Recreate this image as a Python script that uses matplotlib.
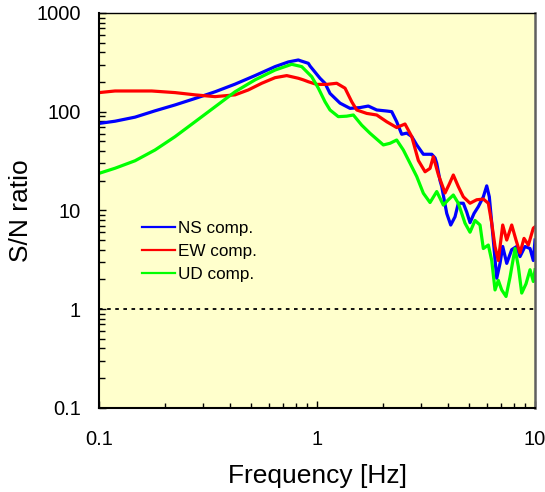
import numpy as np
import matplotlib.pyplot as plt
from matplotlib.ticker import LogLocator, NullFormatter, FixedLocator, FixedFormatter

plt.rcParams["font.family"] = ["Liberation Sans", "DejaVu Sans"]

# NS component (blue)
ns_freq = [0.1, 0.1184, 0.1463, 0.1807, 0.2232, 0.2757, 0.3405, 0.4206, 0.5195,
           0.6418, 0.7384, 0.8209, 0.8356, 0.9122, 0.9288, 1.032, 1.088, 1.147,
           1.275, 1.417, 1.575, 1.719, 1.879, 2.088, 2.201, 2.320, 2.446, 2.579,
           2.719, 2.867, 3.074, 3.299, 3.359, 3.478, 3.541, 3.666, 3.733, 3.936,
           4.105, 4.295, 4.448, 4.689, 4.861, 5.033, 5.251, 5.495, 5.792, 6.004,
           6.171, 6.397, 6.672, 6.909, 7.109, 7.417, 7.818, 8.242, 8.534, 8.997,
           9.487, 9.822, 10.0]
ns_sn = [76, 80, 88, 102, 117, 136, 159, 190, 232,
         286, 319, 334, 329, 309, 290, 218, 194, 153,
         122, 108, 110, 114, 104, 101.5, 100, 79, 59, 60.6,
         56, 46, 37, 37, 37, 34, 30, 20, 17.4, 9.3,
         7.1, 8.6, 11.8, 11.8, 9.6, 7.5, 9.3, 10.9, 13.7, 17.7,
         13.7, 5.8, 2.05, 2.9, 4.3, 2.9, 4.0, 4.3, 3.4, 4.3,
         4.1, 3.1, 5.0]

# EW component (red)
ew_freq = [0.1, 0.1184, 0.1745, 0.2232, 0.2757, 0.3405, 0.4206, 0.4840, 0.5577,
           0.6418, 0.7261, 0.8209, 0.8655, 0.9122, 0.9968, 1.108, 1.231, 1.344,
           1.443, 1.521, 1.690, 1.879, 2.088, 2.320, 2.533, 2.719, 2.916, 3.130,
           3.299, 3.416, 3.601, 3.866, 4.045, 4.219, 4.448, 4.689, 5.033, 5.403,
           5.792, 6.106, 6.330, 6.553, 6.786, 7.109, 7.417, 7.818, 8.180, 8.534,
           8.902, 9.318, 9.822, 10.0]
ew_sn = [156, 162, 162, 156, 148, 142, 148, 166, 194,
         221, 232, 218, 210, 201, 189, 189, 194, 173,
         126, 104, 96, 92.5, 79, 69, 75, 56, 32, 24.6,
         26.6, 35, 23, 15, 18.5, 22.8, 17.4, 13.7, 11.8, 12.8,
         13, 11.8, 7.4, 4.3, 3.1, 7.1, 5, 7.1, 5, 3.7,
         5.2, 4.45, 6.6, 6.8]

# UD component (green)
ud_freq = [0.1, 0.1184, 0.1463, 0.1807, 0.2232, 0.2757, 0.3405, 0.4206, 0.5195,
           0.6418, 0.7655, 0.8508, 0.9456, 1.014, 1.088, 1.147, 1.252, 1.368,
           1.468, 1.603, 1.750, 2.015, 2.162, 2.320, 2.488, 2.671, 2.867, 3.074,
           3.299, 3.541, 3.797, 4.003, 4.219, 4.448, 4.774, 5.033, 5.306, 5.594,
           5.792, 6.106, 6.330, 6.553, 6.786, 7.034, 7.362, 7.679, 8.095, 8.382,
           8.689, 9.092, 9.487, 9.822, 10.0]
ud_sn = [23.7, 26.7, 31.8, 40.9, 55.8, 79, 112, 159, 210,
         264, 302, 286, 226, 173, 126, 104, 89, 90,
         92.5, 73, 60.4, 46, 47.8, 51.6, 40.9, 30, 22, 14.9,
         12, 15.5, 11.3, 12.8, 14.3, 11.8, 7.4, 6.0, 7.9, 7.1,
         4.1, 4.45, 3.1, 1.56, 1.95, 1.56, 1.34, 2.1, 4.1, 2.7,
         1.45, 1.8, 2.5, 1.9, 2.5]

fig = plt.figure(figsize=(5.45, 4.92), dpi=100)
ax = fig.add_axes([0.1817, 0.1714, 0.8, 0.8022])
ax.set_facecolor("#FFFFCC")

ax.plot(ns_freq, ns_sn, color="#0000FF", lw=2.3, label="NS comp.")
ax.plot(ew_freq, ew_sn, color="#FF0000", lw=2.3, label="EW comp.")
ax.plot(ud_freq, ud_sn, color="#00FF00", lw=2.3, label="UD comp.")
ax.axhline(1, color="black", lw=1.3, linestyle=(0, (2, 2.5)))

ax.set_xscale("log")
ax.set_yscale("log")
ax.set_xlim(0.1, 10)
ax.set_ylim(0.1, 1000)

ax.xaxis.set_major_locator(FixedLocator([0.1, 1, 10]))
ax.xaxis.set_major_formatter(FixedFormatter(["0.1", "1", "10"]))
ax.xaxis.set_minor_locator(LogLocator(base=10, subs=np.arange(2, 10)))
ax.xaxis.set_minor_formatter(NullFormatter())
ax.yaxis.set_major_locator(FixedLocator([0.1, 1, 10, 100, 1000]))
ax.yaxis.set_major_formatter(FixedFormatter(["0.1", "1", "10", "100", "1000"]))
ax.yaxis.set_minor_locator(LogLocator(base=10, subs=np.arange(2, 10)))
ax.yaxis.set_minor_formatter(NullFormatter())

ax.tick_params(axis="x", which="major", direction="in", length=5, width=1,
               labelsize=14.5, pad=16)
ax.tick_params(axis="x", which="minor", direction="in", length=3.5, width=1)
ax.tick_params(axis="y", which="major", direction="in", length=5, width=1,
               labelsize=14.5, pad=13)
ax.tick_params(axis="y", which="minor", direction="in", length=4.5, width=1)

ax.spines["left"].set_linewidth(1.5)
ax.spines["bottom"].set_linewidth(1.5)
ax.spines["top"].set_linewidth(1)
ax.spines["right"].set_color("#606060")
ax.spines["right"].set_linewidth(1.8)

ax.set_xlabel("Frequency [Hz]", fontsize=19)
ax.set_ylabel("S/N ratio", fontsize=19)
ax.xaxis.set_label_coords(0.5, -0.143)
ax.yaxis.set_label_coords(-0.151, 0.5)

leg = ax.legend(loc="upper left", bbox_to_anchor=(0.098, 0.473), frameon=False,
                fontsize=12.3, borderpad=0, borderaxespad=0, handlelength=1.93,
                handletextpad=0.19, labelspacing=0.46)
for line in leg.get_lines():
    line.set_linewidth(1.6)

fig.savefig("out.png", dpi=100)
